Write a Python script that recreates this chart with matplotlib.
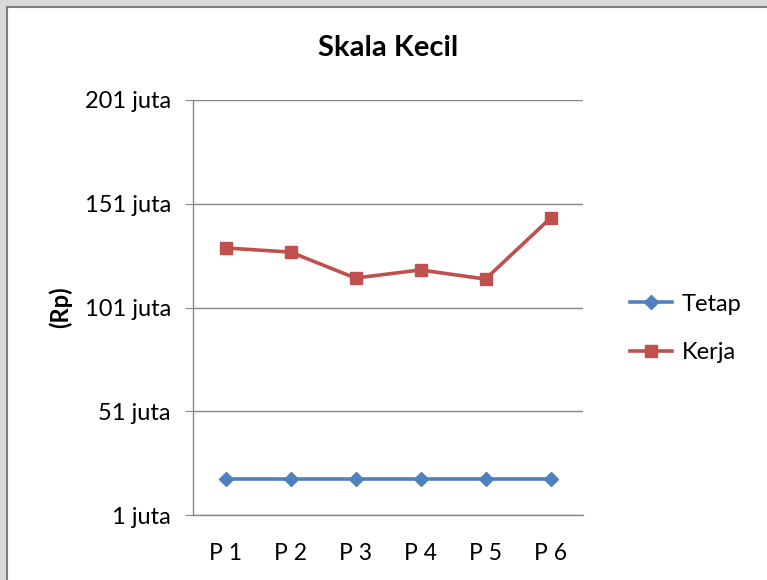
import matplotlib
matplotlib.use('Agg')
import matplotlib.pyplot as plt
from matplotlib.patches import Rectangle

# ============================================================
# DATA (juta rupiah)
# ============================================================
periode = ["P 1", "P 2", "P 3", "P 4", "P 5", "P 6"]
tetap = [18.2, 18.2, 18.2, 18.2, 18.2, 18.2]
kerja = [129.7, 127.7, 115.2, 119.1, 114.7, 144.1]
ytick_vals = [1, 51, 101, 151, 201]
ytick_labels = ["1 juta", "51 juta", "101 juta", "151 juta", "201 juta"]

BIRU = "#4F81BD"
MERAH = "#C0504D"
GRID = "#878787"

plt.rcParams['font.family'] = ['Lato', 'DejaVu Sans']

W, H = 767, 580
fig = plt.figure(figsize=(W / 100, H / 100), dpi=100)
fig.patch.set_facecolor("white")

# bingkai abu-abu di kiri dan atas
fig.patches.append(Rectangle((0, 0), 6 / W, 1, transform=fig.transFigure,
                             facecolor="#D9D9D9", edgecolor="none", zorder=0))
fig.patches.append(Rectangle((0, 1 - 6 / H), 1, 6 / H, transform=fig.transFigure,
                             facecolor="#D9D9D9", edgecolor="none", zorder=0))
fig.add_artist(plt.Line2D([6.5 / W, 6.5 / W], [0, 1 - 6.5 / H], color="#7F7F7F",
                          lw=1.5, transform=fig.transFigure))
fig.add_artist(plt.Line2D([6.5 / W, 1], [1 - 6.5 / H, 1 - 6.5 / H], color="#7F7F7F",
                          lw=1.5, transform=fig.transFigure))

ax = fig.add_axes([193 / W, 1 - 515 / H, 390 / W, 415 / H])

x = [i + 0.5 for i in range(len(periode))]
ax.plot(x, tetap, color=BIRU, lw=2.6, marker="D", ms=7, label="Tetap", zorder=3)
ax.plot(x, kerja, color=MERAH, lw=2.6, marker="s", ms=8, label="Kerja", zorder=3)

ax.set_xlim(0, len(periode))
ax.set_ylim(1, 201)
ax.set_xticks(x)
ax.set_xticklabels(periode, fontsize=16.5)
ax.set_yticks(ytick_vals)
ax.set_yticklabels(ytick_labels, fontsize=17)
ax.tick_params(axis="x", length=0, pad=20)
ax.tick_params(axis="y", length=6, color=GRID, pad=10)
ax.grid(axis="y", color=GRID, lw=1)
for s in ["top", "right"]:
    ax.spines[s].set_visible(False)
for s in ["left", "bottom"]:
    ax.spines[s].set_color(GRID)
    ax.spines[s].set_linewidth(1)

ax.set_title("Skala Kecil", fontsize=21, fontweight="bold", pad=32)
ax.set_ylabel("(Rp)", fontsize=17, fontweight="bold", labelpad=9)

ax.legend(loc="center left", bbox_to_anchor=(1.065, 0.45), frameon=False,
          fontsize=17, handlelength=1.8, labelspacing=1.15, handletextpad=0.4)

plt.savefig("out.png", dpi=100)
